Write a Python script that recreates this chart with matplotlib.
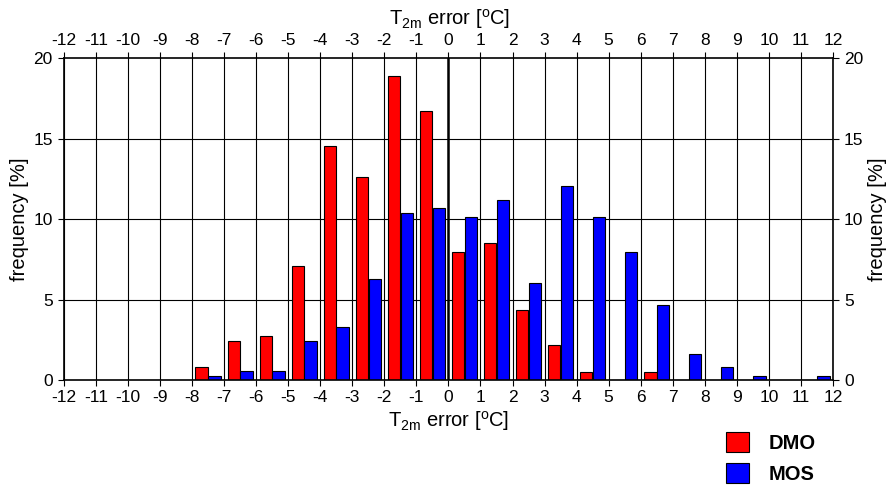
import numpy as np
import matplotlib.pyplot as plt

plt.rcParams['font.family'] = ['Liberation Sans', 'DejaVu Sans']
plt.rcParams['mathtext.fontset'] = 'custom'
plt.rcParams['mathtext.rm'] = 'Liberation Sans'
plt.rcParams['mathtext.it'] = 'Liberation Sans'

# bin centres of the T2m error classes [degC]
bin_centres = np.arange(-7.5, 12.0, 1.0)

# frequency [%]
dmo = [0.81, 2.45, 2.74, 7.10, 14.52, 12.59, 18.90, 16.70, 7.93, 8.51,
       4.38, 2.18, 0.52, 0.0, 0.52, 0.0, 0.0, 0.0, 0.0, 0.0]
mos = [0.27, 0.54, 0.54, 2.45, 3.30, 6.29, 10.40, 10.67, 10.13, 11.21,
       6.02, 12.05, 10.13, 7.93, 4.65, 1.64, 0.83, 0.27, 0.0, 0.27]

xticks = np.arange(-12, 13, 1)
yticks = [0, 5, 10, 15, 20]
xlabel = r'T$_{\mathrm{2m}}$ error [$^{\mathrm{o}}$C]'
ylabel = 'frequency [%]'

fig = plt.figure(figsize=(8.92, 4.88), dpi=100)
ax = fig.add_axes([0.0717, 0.2213, 0.8621, 0.6597])

w = 0.39
# grid first, bars on top
for x in xticks:
    ax.axvline(x, color='black', lw=0.8, zorder=1)
for y in yticks[1:-1]:
    ax.axhline(y, color='black', lw=0.8, zorder=1)
ax.axvline(0, color='black', lw=1.8, zorder=1)

b1 = ax.bar(bin_centres - 0.2, dmo, width=w, color='#ff0000', edgecolor='black', lw=0.8, zorder=2, label='DMO')
b2 = ax.bar(bin_centres + 0.2, mos, width=w, color='#0000ff', edgecolor='black', lw=0.8, zorder=2, label='MOS')

ax.set_xlim(-12, 12)
ax.set_ylim(0, 20)
ax.set_xticks(xticks)
ax.set_xticklabels([str(v) for v in xticks])
ax.set_yticks(yticks)
ax.tick_params(direction='out', length=4, width=0.8, labelsize=12.5, pad=2,
               top=True, labeltop=True, right=True, labelright=True)
ax.tick_params(axis='x', which='both', bottom=True, pad=3)
ax.tick_params(axis='y', pad=4)
for s in ax.spines.values():
    s.set_linewidth(1.2)

ax.set_xlabel(xlabel, fontsize=14.5, labelpad=3)
ax.set_ylabel(ylabel, fontsize=14.5, labelpad=3)
fig.text(0.504, 0.962, xlabel, fontsize=14.5, ha='center', va='center')
fig.text(0.984, 0.55, ylabel, fontsize=14.5, ha='center', va='center', rotation=90)

fig.legend(handles=[b1, b2], loc='upper left', bbox_to_anchor=(0.794, 0.152),
           frameon=False, prop={'weight': 'bold', 'size': 14.5},
           handlelength=1.14, handleheight=1.14, handletextpad=0.95, labelspacing=0.5)

plt.savefig('out.png', dpi=100)
